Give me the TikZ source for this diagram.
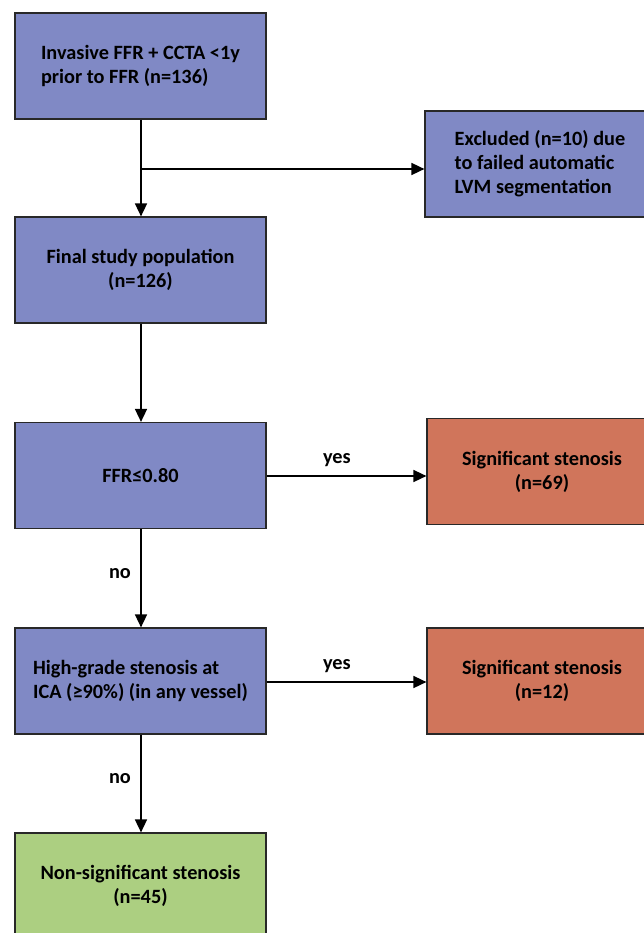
\documentclass[tikz,border=0pt]{standalone}
\usepackage{fontspec}
\setmainfont{Carlito}
\usetikzlibrary{arrows.meta}
\definecolor{boxblue}{RGB}{128,137,197}
\definecolor{boxred}{RGB}{208,117,91}
\definecolor{boxgreen}{RGB}{172,207,129}
\definecolor{edgegray}{RGB}{40,40,40}
\begin{document}
\begin{tikzpicture}[x=1pt,y=1pt,
  box/.style={draw=edgegray,line width=1.2pt,minimum width=251pt,minimum height=106pt,
    inner sep=0pt,font=\fontsize{20.3}{24}\selectfont\bfseries,text=black},
  sidebox/.style={box,minimum width=230pt},
  arr/.style={line width=1.6pt,-{Triangle[length=13pt,width=12pt]}},
  lbl/.style={font=\fontsize{20.3}{24}\selectfont\bfseries}]
\useasboundingbox (0,0) rectangle (644,-933);
\node[box,fill=boxblue,align=left] (inv) at (140.5,-66) {Invasive FFR + CCTA <1y\\prior to FFR (n=136)};
\node[sidebox,fill=boxblue,align=left] (exc) at (540,-164) {Excluded (n=10) due\\to failed automatic\\LVM segmentation};
\node[box,fill=boxblue,align=center] (fin) at (140.5,-270) {Final study population\\(n=126)};
\node[box,fill=boxblue,align=center] (ffr) at (140.5,-475.5) {FFR≤0.80};
\node[sidebox,fill=boxred,align=center] (sig1) at (542,-471.5) {Significant stenosis\\(n=69)};
\node[box,fill=boxblue,align=left] (hgs) at (140.5,-681) {High-grade stenosis at\\ICA (≥90\%) (in any vessel)};
\node[sidebox,fill=boxred,align=center] (sig2) at (542,-681) {Significant stenosis\\(n=12)};
\node[box,fill=boxgreen,align=center] (non) at (140.5,-886) {Non-significant stenosis\\(n=45)};
\coordinate (br) at (141,-169);
\draw[arr] (inv.south -| br) -- (fin.north -| br);
\draw[arr] (br) -- (exc.west |- br);
\draw[arr] (fin.south -| br) -- (ffr.north -| br);
\coordinate (y1) at (0,-476);
\draw[arr] (ffr.east |- y1) -- (sig1.west |- y1) node[lbl,pos=0.44,above=5pt] (yes1) {yes};
\draw[arr] (ffr.south -| br) -- (hgs.north -| br) node[lbl,pos=0.45,left=6pt] (no1) {no};
\coordinate (y2) at (0,-682);
\draw[arr] (hgs.east |- y2) -- (sig2.west |- y2) node[lbl,pos=0.44,above=5pt] (yes2) {yes};
\draw[arr] (hgs.south -| br) -- (non.north -| br) node[lbl,pos=0.45,left=6pt] (no2) {no};
\end{tikzpicture}
\end{document}
